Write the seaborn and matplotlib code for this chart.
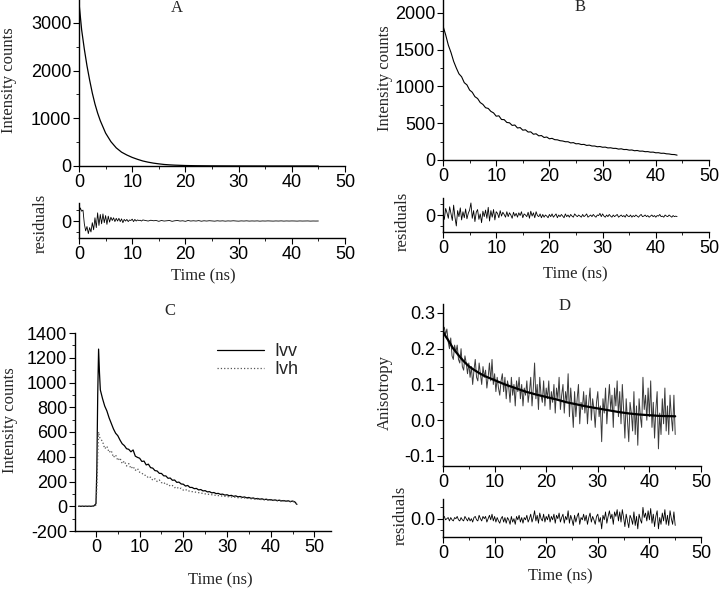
import numpy as np
import matplotlib
matplotlib.use("Agg")
import matplotlib.pyplot as plt
import seaborn as sns
from matplotlib.ticker import MultipleLocator, FixedLocator, FormatStrFormatter

# Donnees (temps en ns)

# A : declin d'intensite
a_time = [0, 0.5, 1, 1.5, 2, 2.5, 3, 3.5, 4, 5, 6, 7, 8, 9, 10, 11, 12, 13, 14, 15,
          16, 17, 18, 20, 22, 25, 30, 35, 40, 45]
a_counts = [3420, 2850, 2450, 2100, 1800, 1530, 1300, 1110, 950, 690, 510, 380, 290, 230,
            180, 140, 105, 80, 60, 45, 32, 24, 18, 10, 6, 3, 1, 0, 0, 0]
# A : residus (0-12 ns pas 0.25, puis 12.5-45 ns pas 0.5)
a_res_early = [1.5, 2.4, 1.8, 2.0, -0.5, -1.8, -1.0, -2.3, -1.2, -2.0, -0.3, -1.6, 0.6,
               -1.2, 1.5, -0.8, 1.2, -0.5, 1.3, -0.3, 1.0, -0.6, 0.9, -0.2, 0.7, 0.1,
               0.6, -0.1, 0.5, 0.0, 0.5, -0.1, 0.4, -0.3, 0.3, 0.0, 0.3, -0.1, 0.2, 0.1,
               0.35, -0.1, 0.3, 0.0, 0.2, 0.1, 0.15, 0.0, 0.2]
a_res_late = [0.1, 0.0, 0.15, 0.05, 0.1, -0.05, 0.1, 0.0, 0.05, 0.1, -0.05, 0.05, 0.1,
              0.0, 0.05, -0.05, 0.1, 0.0, 0.05, 0.0, 0.08, -0.03, 0.05, 0.0, 0.06, 0.02,
              -0.02, 0.05, 0.0, 0.04, -0.02, 0.03, 0.0, 0.05, 0.01, -0.02, 0.03, 0.0,
              0.04, -0.01, 0.02, 0.0, 0.03, -0.02, 0.02, 0.0, 0.03, 0.01, -0.01, 0.02,
              0.0, 0.03, -0.01, 0.02, 0.0, 0.02, 0.01, -0.01, 0.02, 0.0, 0.01, 0.02,
              -0.01, 0.01, 0.0, 0.01]

# B : declin d'intensite (pas 0.5 ns)
b_counts = [1820, 1700, 1560, 1460, 1340, 1250, 1170, 1130, 1050, 1020, 950, 920, 860,
            835, 780, 755, 710, 700, 660, 640, 595, 600, 550, 548, 510, 505, 470, 475,
            435, 440, 405, 410, 380, 382, 350, 356, 328, 332, 306, 312, 288, 294, 276,
            274, 262, 258, 248, 248, 232, 236, 220, 222, 210, 212, 198, 202, 190, 190,
            180, 183, 173, 175, 164, 166, 158, 158, 148, 152, 142, 143, 134, 136, 126,
            129, 120, 121, 113, 114, 106, 107, 98, 99, 91, 92, 84, 82, 75, 74, 66]
# B : residus (pas 0.25 ns)
b_res = [0.3, -0.8, 1.2, 0.4, -0.6, 1.5, 0.2, -1.0,
         1.8, -0.4, -2.0, 0.8, -0.3, 1.3, -0.9, 0.6,
         -0.5, 1.1, -0.7, 0.3, 0.9, 2.2, -0.6, 0.8,
         -1.2, 0.5, 1.0, -0.8, 0.2, -1.4, 0.7, -0.3,
         0.9, -0.6, 1.4, -1.1, 0.8, -0.4, 1.0, -0.9,
         0.6, 0.3, -0.5, 0.8, -0.2, 0.5, 0.1, -0.4,
         0.6, -0.3, 0.4, 0.0, -0.6, 0.5, -0.2, 0.3,
         -0.4, 0.4, -0.1, 0.6, -0.5, 0.2, 0.0, -0.3,
         0.5, -0.6, 0.7, -0.2, 0.4, -0.5, 0.6, -0.1,
         -0.3, 0.2, -0.5, 0.1, -0.4, 0.0, -0.2, -0.5,
         0.1, -0.3, 0.2, -0.4, -0.1, 0.2, -0.5, 0.0,
         -0.3, 0.1, -0.2, -0.5, 0.2, -0.3, 0.0, -0.4,
         0.1, -0.2, -0.4, 0.2, -0.1, -0.3, 0.0, -0.2,
         -0.4, 0.1, -0.3, -0.1, 0.2, -0.4, -0.2, 0.0,
         -0.3, 0.1, -0.2, -0.4, 0.0, -0.1, 0.3, -0.3,
         0.2, -0.2, -0.4, 0.0, -0.3, 0.1, -0.2, -0.4,
         0.0, -0.3, -0.1, 0.1, -0.4, -0.2, 0.0, -0.3,
         -0.1, -0.4, 0.1, -0.2, -0.3, 0.0, -0.4, -0.1,
         -0.3, 0.0, -0.2, -0.4, -0.1, 0.1, -0.3, -0.2,
         0.0, -0.3, -0.1, -0.4, -0.2, 0.0, -0.3, -0.1,
         -0.4, -0.1, -0.2, 0.1, -0.3, -0.2, -0.4, 0.0,
         -0.2, -0.3, 0.0, -0.2, -0.4, -0.1, -0.3, -0.2,
         -0.3]

# C : Ivv et Ivh (debut irregulier puis pas 0.5 ns a partir de 1.5 ns)
c_time_head = [-4, -3, -2, -1, -0.5, 0, 0.2, 0.4, 0.6, 0.8, 1.0]
ivv_head = [0, 0, 0, 0, 2, 20, 300, 900, 1270, 1080, 940]
ivh_head = [0, 0, 0, 0, 0, 10, 150, 420, 600, 560, 545]
ivv_tail = [870, 810, 770, 715, 670, 625, 590, 570, 535, 505, 490, 465, 460, 440, 455, 405,
            395, 388, 362, 365, 334, 340, 312, 308, 288, 285, 266, 265, 246, 245, 226, 228,
            210, 212, 193, 195, 180, 178, 163, 168, 152, 152, 142, 144, 132, 135, 124, 126,
            116, 118, 108, 111, 102, 104, 96, 98, 90, 93, 85, 88, 80, 84, 76, 79, 72, 75,
            68, 71, 64, 67, 60, 63, 57, 60, 54, 57, 51, 54, 48, 51, 46, 49, 43, 46, 41, 44,
            38, 42, 36, 15]
ivh_tail = [525, 465, 485, 435, 450, 395, 415, 370, 390, 345, 365, 325, 345, 305, 322, 290,
            305, 275, 268, 250, 250, 228, 235, 210, 222, 200, 212, 190, 194, 174, 180, 162,
            168, 150, 156, 140, 146, 130, 136, 122, 124, 118, 117, 112, 110, 106, 104, 100,
            98, 95, 93, 90, 88, 86, 84, 82, 80, 78, 76, 75, 72, 73, 69, 70, 66, 67, 63, 64,
            60, 61, 57, 58, 54, 55, 52, 53, 49, 50, 46, 48, 44, 45, 41, 43, 39, 41, 36, 39,
            34, 14]

# D : anisotropie (pas 0.25 ns) et ajustement
d_aniso = [0.25, 0.26, 0.24, 0.255, 0.22, 0.20, 0.23, 0.18, 0.17, 0.21,
           0.19, 0.21, 0.17, 0.16, 0.20, 0.15, 0.14, 0.18, 0.16, 0.13,
           0.16, 0.12, 0.15, 0.10, 0.14, 0.17, 0.12, 0.11, 0.16, 0.13,
           0.10, 0.15, 0.12, 0.14, 0.09, 0.12, 0.16, 0.11, 0.17, 0.10,
           0.13, 0.08, 0.12, 0.09, 0.07, 0.11, 0.13, 0.08, 0.12, 0.06,
           0.11, 0.09, 0.05, 0.12, 0.07, 0.10, 0.04, 0.11, 0.08, 0.12,
           0.06, 0.10, 0.04, 0.09, 0.07, 0.11, 0.05, 0.08, 0.12, 0.04,
           0.09, 0.16, 0.06, 0.10, 0.03, 0.12, 0.07, 0.05, 0.11, 0.04,
           0.09, 0.06, 0.11, 0.03, 0.08, 0.05, 0.10, 0.02, 0.09, 0.06,
           0.12, 0.03, 0.07, 0.10, 0.02, 0.08, 0.05, 0.13, 0.01, 0.09,
           0.04, -0.02, 0.08, 0.01, 0.06, 0.10, -0.01, 0.05, 0.03, 0.08,
           0.02, 0.07, -0.01, 0.05, 0.09, 0.00, 0.06, 0.03, -0.02, 0.05,
           0.08, 0.01, 0.04, -0.06, 0.06, 0.02, 0.09, -0.01, 0.05, 0.10,
           0.03, 0.07, -0.02, 0.09, 0.04, 0.11, 0.01, 0.08, -0.01, 0.10,
           0.03, -0.05, 0.06, 0.00, -0.06, 0.05, 0.02, -0.03, 0.08, -0.04,
           0.04, -0.07, 0.06, 0.01, -0.02, 0.12, 0.03, 0.07, 0.00, 0.09,
           0.01, 0.11, -0.02, 0.05, -0.05, 0.03, 0.08, -0.08, 0.02, -0.04,
           0.06, -0.01, 0.09, -0.03, 0.04, -0.04, 0.07, 0.01, -0.03, 0.07,
           -0.04]
d_fit_time = [0, 0.5, 1, 1.5, 2, 3, 4, 5, 6, 7, 8, 9, 10, 12, 14, 16, 18, 20, 22, 24, 26,
              28, 30, 32, 34, 36, 38, 40, 42, 45]
d_fit = [0.248, 0.235, 0.224, 0.212, 0.200, 0.182, 0.165, 0.151, 0.141, 0.132, 0.124,
         0.118, 0.112, 0.100, 0.090, 0.080, 0.072, 0.065, 0.058, 0.050, 0.044, 0.038,
         0.033, 0.028, 0.023, 0.019, 0.016, 0.014, 0.012, 0.011]
d_res = [0.01, 0.02, -0.01, 0.0, 0.01, -0.02, 0.01, -0.01, -0.02, 0.01,
         0.0, 0.02, -0.01, -0.02, 0.01, -0.01, -0.02, 0.02, 0.0, -0.02,
         0.01, -0.02, 0.0, -0.03, 0.01, 0.02, -0.01, -0.02, 0.03, 0.0,
         -0.02, 0.02, 0.0, 0.02, -0.03, 0.0, 0.03, -0.01, 0.04, -0.02,
         0.02, -0.03, 0.01, -0.02, -0.04, 0.0, 0.02, -0.03, 0.01, -0.04,
         0.01, -0.01, -0.05, 0.02, -0.03, 0.0, -0.05, 0.02, -0.01, 0.03,
         -0.03, 0.01, -0.04, 0.01, -0.01, 0.03, -0.03, 0.0, 0.04, -0.03,
         0.01, 0.07, -0.02, 0.03, -0.04, 0.05, 0.0, -0.02, 0.04, -0.03,
         0.02, -0.01, 0.04, -0.03, 0.02, -0.01, 0.04, -0.04, 0.03, 0.0,
         0.05, -0.03, 0.01, 0.04, -0.04, 0.02, -0.01, 0.07, -0.04, 0.03,
         -0.01, -0.06, 0.03, -0.03, 0.02, 0.05, -0.05, 0.01, -0.01, 0.04,
         -0.02, 0.03, -0.05, 0.01, 0.05, -0.03, 0.02, -0.01, -0.05, 0.02,
         0.04, -0.03, 0.01, -0.09, 0.03, -0.01, 0.06, -0.04, 0.02, 0.07,
         0.0, 0.04, -0.05, 0.06, 0.02, 0.08, -0.02, 0.06, -0.03, 0.08,
         0.01, -0.07, 0.04, -0.02, -0.08, 0.03, 0.0, -0.05, 0.06, -0.06,
         0.02, -0.09, 0.04, -0.01, -0.04, 0.10, 0.01, 0.05, -0.02, 0.07,
         -0.01, 0.09, -0.04, 0.04, -0.07, 0.02, 0.07, -0.09, 0.01, -0.05,
         0.05, -0.02, 0.08, -0.05, 0.03, -0.06, 0.07, 0.0, -0.05, 0.06,
         -0.06]

# axes des temps (canaux reguliers)
a_res_time = np.concatenate([np.arange(len(a_res_early)) * 0.25,
                             12.5 + np.arange(len(a_res_late)) * 0.5])
a_res = a_res_early + a_res_late
b_time = np.arange(len(b_counts)) * 0.5
b_res_time = np.arange(len(b_res)) * 0.25
c_time = np.concatenate([c_time_head, 1.5 + np.arange(len(ivv_tail)) * 0.5])
ivv = ivv_head + ivv_tail
ivh = ivh_head + ivh_tail
d_time = np.arange(len(d_aniso)) * 0.25
d_res_time = np.arange(len(d_res)) * 0.25

# Style
sns.set_style("ticks")
plt.rcParams["font.family"] = ["Liberation Sans", "DejaVu Sans"]
plt.rcParams["axes.unicode_minus"] = False
plt.rcParams["xtick.labelsize"] = 13
plt.rcParams["ytick.labelsize"] = 13
plt.rcParams["axes.linewidth"] = 1.0
plt.rcParams["xtick.major.size"] = 4
plt.rcParams["ytick.major.size"] = 4
plt.rcParams["xtick.minor.size"] = 2.5
plt.rcParams["ytick.minor.size"] = 2.5
plt.rcParams["xtick.major.pad"] = 1.5
plt.rcParams["ytick.major.pad"] = 1.5

W, H = 720, 590
fig = plt.figure(figsize=(7.2, 5.9), dpi=100)


def add_box(left, right, top, bottom):
    # positions en pixels -> fractions de figure
    return fig.add_axes([left / W, 1 - bottom / H, (right - left) / W, (bottom - top) / H])


serif = {"family": "Liberation Serif", "size": 12}


def style(ax):
    sns.despine(ax=ax)
    ax.tick_params(which="both", direction="out", colors="black")
    for s in ["left", "bottom"]:
        ax.spines[s].set_color("black")


def ylabel_at(ax, text, x, y):
    ax.set_ylabel(text, fontdict=serif)
    ax.yaxis.set_label_coords(x / W, 1 - y / H, transform=fig.transFigure)
    ax.yaxis.label.set(va="center", ha="center")


def xlabel_at(ax, text, x, y):
    ax.set_xlabel(text, fontdict=serif)
    ax.xaxis.set_label_coords(x / W, 1 - y / H, transform=fig.transFigure)
    ax.xaxis.label.set(va="center", ha="center")


def time_ticks(ax):
    ax.xaxis.set_major_locator(MultipleLocator(10))
    ax.xaxis.set_minor_locator(MultipleLocator(5))


# Panneau A
ax = add_box(79, 345, -1, 166)
sns.lineplot(x=a_time, y=a_counts, ax=ax, color="black", lw=0.9, estimator=None, sort=False)
ax.set_xlim(0, 50)
ax.set_ylim(0, 3500)
time_ticks(ax)
ax.yaxis.set_major_locator(MultipleLocator(1000))
ax.yaxis.set_minor_locator(MultipleLocator(500))
style(ax)
ylabel_at(ax, "Intensity counts", 9, 80)

ax = add_box(79, 345, 203, 238)
sns.lineplot(x=a_res_time, y=a_res, ax=ax, color="black", lw=0.6, estimator=None, sort=False)
ax.set_xlim(0, 50)
ax.set_ylim(-3.1, 3.3)
time_ticks(ax)
ax.yaxis.set_major_locator(FixedLocator([0]))
ax.yaxis.set_minor_locator(FixedLocator([-2, 2]))
style(ax)
ylabel_at(ax, "residuals", 41, 223)
xlabel_at(ax, "Time (ns)", 203, 276)

# Panneau B
ax = add_box(443, 709, -2, 160)
sns.lineplot(x=b_time, y=b_counts, ax=ax, color="black", lw=0.8, estimator=None, sort=False)
ax.set_xlim(0, 50)
ax.set_ylim(0, 2200)
time_ticks(ax)
ax.yaxis.set_major_locator(MultipleLocator(500))
ax.yaxis.set_minor_locator(MultipleLocator(250))
style(ax)
ylabel_at(ax, "Intensity counts", 385, 78)

ax = add_box(443, 709, 198, 232)
sns.lineplot(x=b_res_time, y=b_res, ax=ax, color="black", lw=0.6, estimator=None, sort=False)
ax.set_xlim(0, 50)
ax.set_ylim(-3.1, 3.1)
time_ticks(ax)
ax.yaxis.set_major_locator(FixedLocator([0]))
ax.yaxis.set_minor_locator(FixedLocator([-2, 2]))
style(ax)
ylabel_at(ax, "residuals", 403, 221)
xlabel_at(ax, "Time (ns)", 575, 274)

# Panneau C
ax = add_box(75, 331, 333, 531)
sns.lineplot(x=c_time, y=ivv, ax=ax, color="black", lw=0.9, estimator=None, sort=False,
             label="Ivv")
sns.lineplot(x=c_time, y=ivh, ax=ax, color="#555555", lw=0.9, estimator=None, sort=False,
             label="Ivh", linestyle=":")
ax.set_xlim(-4.8, 53.8)
ax.set_ylim(-200, 1400)
time_ticks(ax)
ax.yaxis.set_major_locator(MultipleLocator(200))
ax.yaxis.set_minor_locator(MultipleLocator(100))
style(ax)
ax.legend(loc="upper right", bbox_to_anchor=(306 / W, 1 - 336 / H),
          bbox_transform=fig.transFigure, frameon=False, fontsize=13,
          handlelength=2.6, handletextpad=0.6, labelspacing=0.05, borderaxespad=0)
ylabel_at(ax, "Intensity counts", 10, 420)
xlabel_at(ax, "Time (ns)", 220, 580)

# Panneau D
ax = add_box(443, 701, 304, 466)
sns.lineplot(x=d_time, y=d_aniso, ax=ax, color="#3a3a3a", lw=0.7, estimator=None, sort=False)
sns.lineplot(x=d_fit_time, y=d_fit, ax=ax, color="black", lw=1.6, estimator=None, sort=False)
ax.set_xlim(0, 50)
ax.set_ylim(-0.128, 0.325)
time_ticks(ax)
ax.yaxis.set_major_locator(MultipleLocator(0.1))
ax.yaxis.set_minor_locator(MultipleLocator(0.05))
ax.yaxis.set_major_formatter(FormatStrFormatter("%.1f"))
style(ax)
ylabel_at(ax, "Anisotropy", 385, 392)

ax = add_box(443, 701, 499, 537)
sns.lineplot(x=d_res_time, y=d_res, ax=ax, color="black", lw=0.6, estimator=None, sort=False)
ax.set_xlim(0, 50)
ax.set_ylim(-0.162, 0.174)
time_ticks(ax)
ax.yaxis.set_major_locator(FixedLocator([0]))
ax.yaxis.set_minor_locator(FixedLocator([-0.1, 0.1]))
ax.yaxis.set_major_formatter(FormatStrFormatter("%.1f"))
style(ax)
ylabel_at(ax, "residuals", 401, 515)
xlabel_at(ax, "Time (ns)", 560, 576)

# lettres des panneaux
for letter, x, y in [("A", 177, 8), ("B", 580, 7), ("C", 170, 311), ("D", 565, 306)]:
    fig.text(x / W, 1 - y / H, letter, ha="center", va="center", **serif)

fig.savefig("out.png", dpi=100)
